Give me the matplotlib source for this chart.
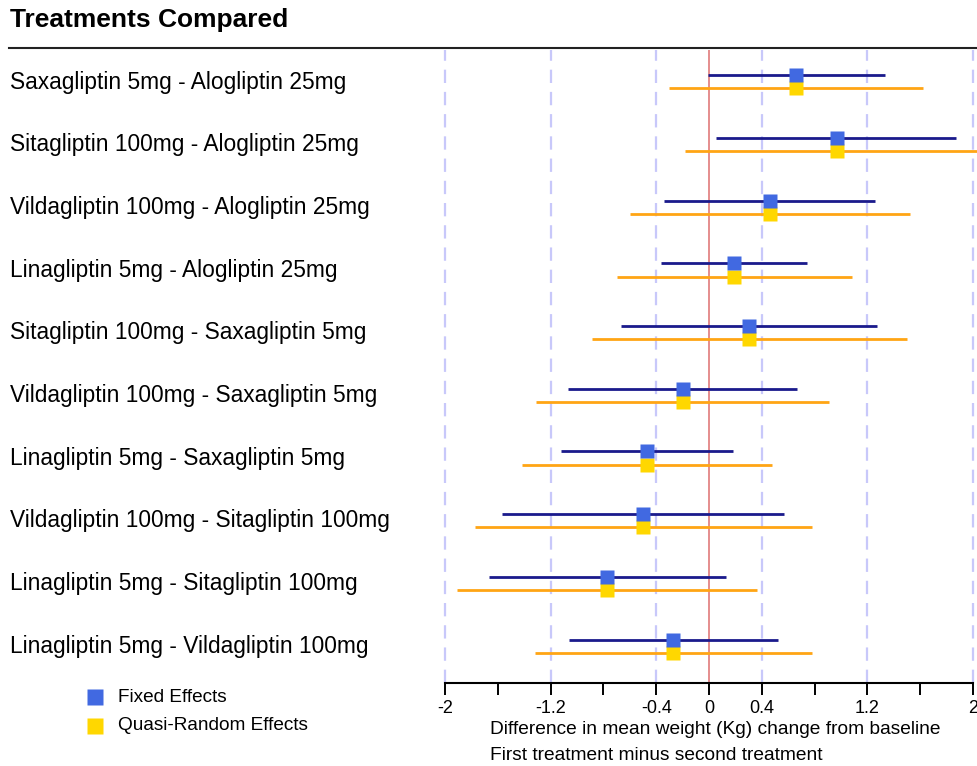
import numpy as np
import matplotlib
matplotlib.use("Agg")
import matplotlib.pyplot as plt

plt.rcParams['font.family'] = ['Liberation Sans', 'DejaVu Sans']

labels = ["Saxagliptin 5mg - Alogliptin 25mg",
          "Sitagliptin 100mg - Alogliptin 25mg",
          "Vildagliptin 100mg - Alogliptin 25mg",
          "Linagliptin 5mg - Alogliptin 25mg",
          "Sitagliptin 100mg - Saxagliptin 5mg",
          "Vildagliptin 100mg - Saxagliptin 5mg",
          "Linagliptin 5mg - Saxagliptin 5mg",
          "Vildagliptin 100mg - Sitagliptin 100mg",
          "Linagliptin 5mg - Sitagliptin 100mg",
          "Linagliptin 5mg - Vildagliptin 100mg"]

# fixed effects: estimate and interval
fixed_est = [0.66, 0.97, 0.46, 0.19, 0.30, -0.20, -0.47, -0.50, -0.77, -0.27]
fixed_lo = [-0.01, 0.05, -0.34, -0.36, -0.67, -1.07, -1.12, -1.57, -1.67, -1.06]
fixed_hi = [1.33, 1.87, 1.26, 0.74, 1.27, 0.67, 0.18, 0.57, 0.13, 0.52]

# quasi-random effects
rand_est = [0.66, 0.97, 0.46, 0.19, 0.30, -0.20, -0.47, -0.50, -0.77, -0.27]
rand_lo = [-0.30, -0.18, -0.60, -0.70, -0.89, -1.31, -1.42, -1.77, -1.91, -1.32]
rand_hi = [1.62, 2.10, 1.52, 1.08, 1.50, 0.91, 0.48, 0.78, 0.36, 0.78]

ticks = np.round(np.arange(-2, 2.01, 0.4), 1) + 0.0
shown = [-2, -1.2, -0.4, 0, 0.4, 1.2, 2]
tick_labels = [("%g" % abs(t) if abs(t) < 1e-9 else "%g" % t) if t in shown else ""
               for t in ticks]
grid_at = [-2, -1.2, -0.4, 0.4, 1.2, 2]

W, H = 977, 766
fig = plt.figure(figsize=(W / 100, H / 100), dpi=100)
ax = fig.add_axes([445 / W, (H - 683) / H, 532 / W, 633 / H])

rows = np.arange(len(labels))
off = 0.104

for g in grid_at:
    ax.axvline(g, color='#c8c8fa', lw=1.6, dashes=(6, 4), zorder=1, clip_on=False)
ax.axvline(0, color='#e07a7a', lw=1.2, zorder=1)

ax.hlines(rows - off, fixed_lo, fixed_hi, color='#1a1a8c', lw=2.0, zorder=2)
ax.hlines(rows + off, rand_lo, rand_hi, color='#ffa514', lw=2.0, zorder=2)
ax.plot(rand_est, rows + off, 's', ms=10, color='#ffd700', mec='none', zorder=3)
ax.plot(fixed_est, rows - off, 's', ms=10, color='#4169e1', mec='none', zorder=4)

ax.set_xlim(-2, 2.03)
ax.set_ylim(len(labels) - 1 + 0.59, -0.51)
ax.set_yticks([])
for s in ['top', 'right', 'left']:
    ax.spines[s].set_visible(False)
ax.spines['bottom'].set_bounds(-2, 2)
ax.spines['bottom'].set_linewidth(1.5)
ax.set_xticks(ticks)
ax.set_xticklabels(tick_labels)
ax.tick_params(axis='x', direction='out', length=8.5, width=1.4, pad=4,
               labelsize=13)

# row labels on the left
for i, lab in enumerate(labels):
    y = 82 + 62.7 * i
    fig.text(10 / W, 1 - y / H, lab, fontsize=16.4, ha='left', va='center')

fig.text(10 / W, 1 - 20 / H, "Treatments Compared", fontsize=19,
         fontweight='bold', ha='left', va='center')
fig.add_artist(plt.Line2D([9 / W, 1], [1 - 48 / H, 1 - 48 / H],
                          color='#222222', lw=1.5))

fig.text(490 / W, 1 - 729 / H, "Difference in mean weight (Kg) change from baseline",
         fontsize=13.8, ha='left', va='center')
fig.text(490 / W, 1 - 755 / H, "First treatment minus second treatment",
         fontsize=13.8, ha='left', va='center')

# legend
leg_items = [("Fixed Effects", '#4169e1'), ("Quasi-Random Effects", '#ffd700')]
for j, (name, col) in enumerate(leg_items):
    y = 697 + 29 * j
    fig.add_artist(plt.Line2D([95 / W], [1 - y / H], marker='s', ms=12,
                              color=col, mec='none', ls='none'))
    fig.text(118 / W, 1 - y / H, name, fontsize=13.7, ha='left', va='center')

fig.savefig("out.png", dpi=100)
